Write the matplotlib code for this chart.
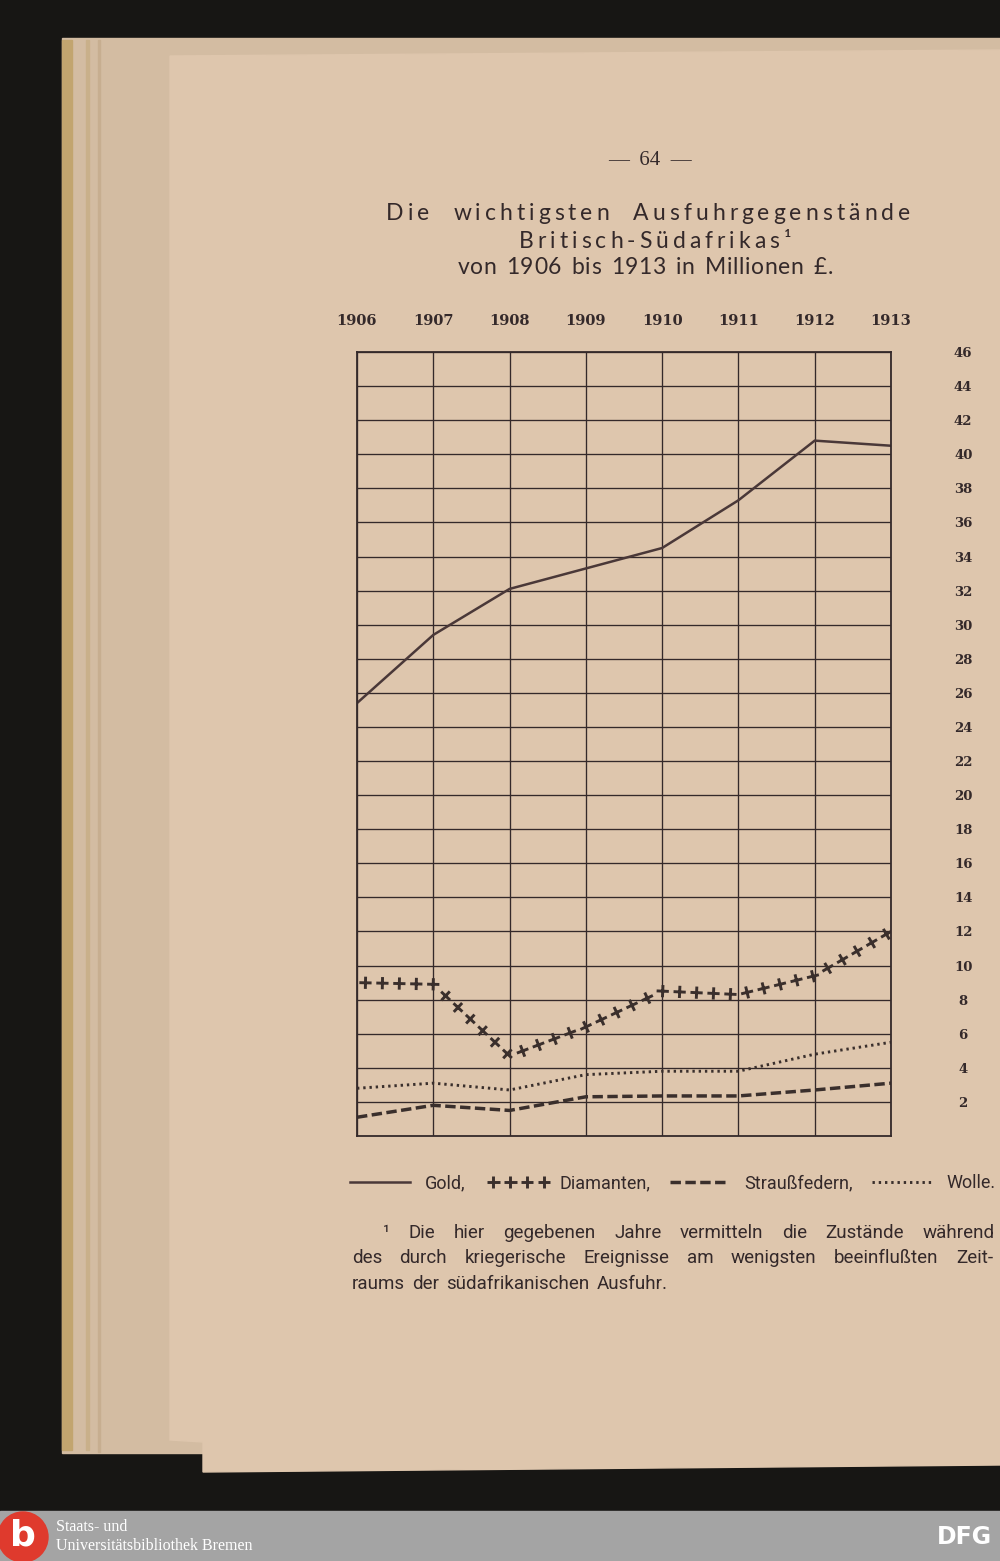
import numpy as np
import matplotlib
matplotlib.use("Agg")
import matplotlib.pyplot as plt
from matplotlib import patheffects, font_manager
from matplotlib.path import Path
from matplotlib.transforms import Affine2D
from matplotlib.patches import Rectangle, Circle, Polygon

# values (million pounds)
years = [1906, 1907, 1908, 1909, 1910, 1911, 1912, 1913]
gold = [25.4, 29.4, 32.1, 33.3, 34.5, 37.3, 40.8, 40.5]
diamanten = [9.0, 8.9, 4.7, 6.4, 8.5, 8.3, 9.4, 12.0]
straussfedern = [1.1, 1.8, 1.5, 2.3, 2.35, 2.35, 2.7, 3.1]
wolle = [2.8, 3.1, 2.7, 3.6, 3.8, 3.8, 4.8, 5.5]
y_ticks = list(range(2, 47, 2))

legend_labels = ["Gold,", "Diamanten,", "Straußfedern,", "Wolle."]
title_lines = ["Die wichtigsten Ausfuhrgegenstände",
               "Britisch-Südafrikas¹",
               "von 1906 bis 1913 in Millionen £."]
footnote = ["¹ Die hier gegebenen Jahre vermitteln die Zustände während",
            "des durch kriegerische Ereignisse am wenigsten beeinflußten Zeit-",
            "raums der südafrikanischen Ausfuhr."]

W, H = 1000, 1561
INK = "#34292a"
PAPER = "#dec6ad"

available = {f.name for f in font_manager.fontManager.ttflist}
def pick(*names):
    for n in names:
        if n in available:
            return n
    return "DejaVu Sans"

NARROW = pick("Liberation Sans Narrow", "DejaVu Sans Condensed", "Roboto", "Liberation Sans")
TITLEF = pick("Lato", "Open Sans", "DejaVu Sans")
SERIF = pick("DejaVu Serif", "Liberation Serif")
TIMES = pick("Liberation Serif", "DejaVu Serif")

plt.rcParams["lines.scale_dashes"] = False

def fx(x):
    return x / W

def fy(y):
    return 1 - y / H


class PlusStroke(patheffects.AbstractPathEffect):
    """Draws little crosses along the path, aligned to its direction."""

    def __init__(self, spacing=12.2, size=4.4, width=2.1):
        super().__init__()
        self.spacing, self.size, self.width = spacing, size, width

    def draw_path(self, renderer, gc, tpath, affine, rgbFace=None):
        pts = affine.transform(tpath.vertices)
        step = np.diff(pts, axis=0)
        seg = np.hypot(step[:, 0], step[:, 1])
        seg_safe = np.where(seg > 0, seg, 1.0)
        dist = np.concatenate([[0.0], np.cumsum(seg)])
        sp = renderer.points_to_pixels(self.spacing)
        arm = renderer.points_to_pixels(self.size)
        at = np.arange(sp / 2, dist[-1], sp)
        k = np.clip(np.searchsorted(dist, at, side="right") - 1, 0, len(seg) - 1)
        frac = (at - dist[k]) / seg_safe[k]
        cx = pts[k, 0] + step[k, 0] * frac
        cy = pts[k, 1] + step[k, 1] * frac
        ux = step[k, 0] / seg_safe[k]
        uy = step[k, 1] / seg_safe[k]
        verts, codes = [], []
        for x, y, a, b in zip(cx, cy, ux, uy):
            verts += [(x - a * arm, y - b * arm), (x + a * arm, y + b * arm),
                      (x + b * arm, y - a * arm), (x - b * arm, y + a * arm)]
            codes += [Path.MOVETO, Path.LINETO, Path.MOVETO, Path.LINETO]
        if not verts:
            return
        gc0 = renderer.new_gc()
        gc0.copy_properties(gc)
        gc0.set_linewidth(self.width)
        gc0.set_dashes(0, None)
        gc0.set_capstyle("butt")
        renderer.draw_path(gc0, Path(verts, codes), Affine2D())
        gc0.restore()


fig = plt.figure(figsize=(10, 15.61), dpi=100)
fig.patch.set_facecolor("#171614")
rend = fig.canvas.get_renderer()

# scanned page background
bg = fig.add_axes([0, 0, 1, 1], zorder=0)
bg.set_xlim(0, W)
bg.set_ylim(H, 0)
bg.axis("off")
bg.add_patch(Rectangle((62, 38), 940, 1415, color="#d3bca2"))
bg.add_patch(Rectangle((62, 40), 10, 1410, color="#c2a56f"))
bg.add_patch(Rectangle((86, 40), 3, 1410, color="#c9b08a"))
bg.add_patch(Rectangle((98, 40), 2, 1412, color="#c7ae90"))
bg.add_patch(Polygon([(170, 56), (1000, 50), (1000, 1465), (203, 1472),
                      (203, 1442), (170, 1440)], closed=True, color=PAPER))
bg.add_patch(Rectangle((0, 1511), W, 50, color="#a4a4a4"))
bg.add_patch(Circle((23, 1537), 25, color="#df3a2d"))
bg.text(23, 1535, "b", color="white", fontsize=26, fontweight="bold",
        ha="center", va="center", family="DejaVu Sans")
bg.text(56, 1527, "Staats- und", color="white", fontsize=11.5, family=TIMES,
        va="center")
bg.text(56, 1546, "Universitätsbibliothek Bremen", color="white", fontsize=11.5,
        family=TIMES, va="center")
bg.text(992, 1537, "DFG", color="white", fontsize=17, fontweight="bold",
        ha="right", va="center", family="DejaVu Sans")

# chart
ax = fig.add_axes([fx(357), fy(1136), fx(891) - fx(357), fy(352) - fy(1136)], zorder=2)
ax.patch.set_alpha(0)
ax.set_xlim(years[0], years[-1])
ax.set_ylim(0, 46)
ax.set_xticks(years)
ax.set_yticks(y_ticks)
ax.xaxis.tick_top()
ax.yaxis.tick_right()
ax.tick_params(axis="x", length=0, pad=17, labelsize=10.5, labelcolor=INK)
ax.tick_params(axis="y", length=0, pad=52, labelsize=9.5, labelcolor=INK)
for t in ax.get_xticklabels() + ax.get_yticklabels():
    t.set_family(SERIF)
    t.set_fontweight("bold")
for t in ax.get_yticklabels():
    t.set_ha("center")
ax.grid(True, color=INK, lw=0.95)
for s in ax.spines.values():
    s.set_color(INK)
    s.set_linewidth(1.3)

l_gold, = ax.plot(years, gold, color="#4a3838", lw=1.8, solid_joinstyle="miter")
l_dia, = ax.plot(years, diamanten, color="#3a2f2c", lw=1.8,
                 path_effects=[PlusStroke()])
l_str, = ax.plot(years, straussfedern, color="#3a2f2c", lw=2.5, dashes=(7.5, 3.2))
l_wol, = ax.plot(years, wolle, color="#3a2f2c", lw=2.1, dashes=(1.7, 2.8))

fig.legend([l_gold, l_dia, l_str, l_wol], legend_labels, loc="center",
           bbox_to_anchor=(fx(673), fy(1183)), ncol=4, frameon=False,
           handlelength=3.3, handletextpad=0.8, columnspacing=1.1,
           borderpad=0, prop={"family": NARROW, "size": 13},
           labelcolor=INK)


def tracked(s, xc, y, track, gap, **kw):
    arts, widths = [], []
    for ch in s:
        t = fig.text(0, fy(y), ch, va="baseline", ha="left", color=INK, **kw)
        arts.append(t)
        widths.append(gap if ch == " " else t.get_window_extent(rend).width)
    total = sum(widths) + track * (len(s) - 1)
    x = xc - total / 2
    for t, w in zip(arts, widths):
        t.set_x(fx(x))
        x += w + track


def justified(line, x0, x1, y, full=True, **kw):
    words = line.split(" ")
    arts = [fig.text(0, fy(y), w, va="baseline", ha="left", color=INK, **kw)
            for w in words]
    widths = [a.get_window_extent(rend).width for a in arts]
    gap = (x1 - x0 - sum(widths)) / (len(words) - 1) if full else 7
    x = x0
    for a, w in zip(arts, widths):
        a.set_x(fx(x))
        x += w + gap


fig.text(fx(650), fy(165), "—  64  —", ha="center", va="baseline",
         fontsize=15, family=TIMES, color=INK)
tracked(title_lines[0], 648, 220, 4.0, 16, fontsize=16.5, family=TITLEF)
tracked(title_lines[1], 655, 248, 4.0, 16, fontsize=16.5, family=TITLEF)
tracked(title_lines[2], 645, 274, 0.6, 9, fontsize=16.5, family=TITLEF)

justified(footnote[0], 383, 995, 1238, fontsize=13.5, family=NARROW)
justified(footnote[1], 352, 993, 1263, fontsize=13.5, family=NARROW)
justified(footnote[2], 352, 690, 1289, full=False, fontsize=13.5, family=NARROW)

fig.savefig("out.png", dpi=100, facecolor=fig.get_facecolor())
